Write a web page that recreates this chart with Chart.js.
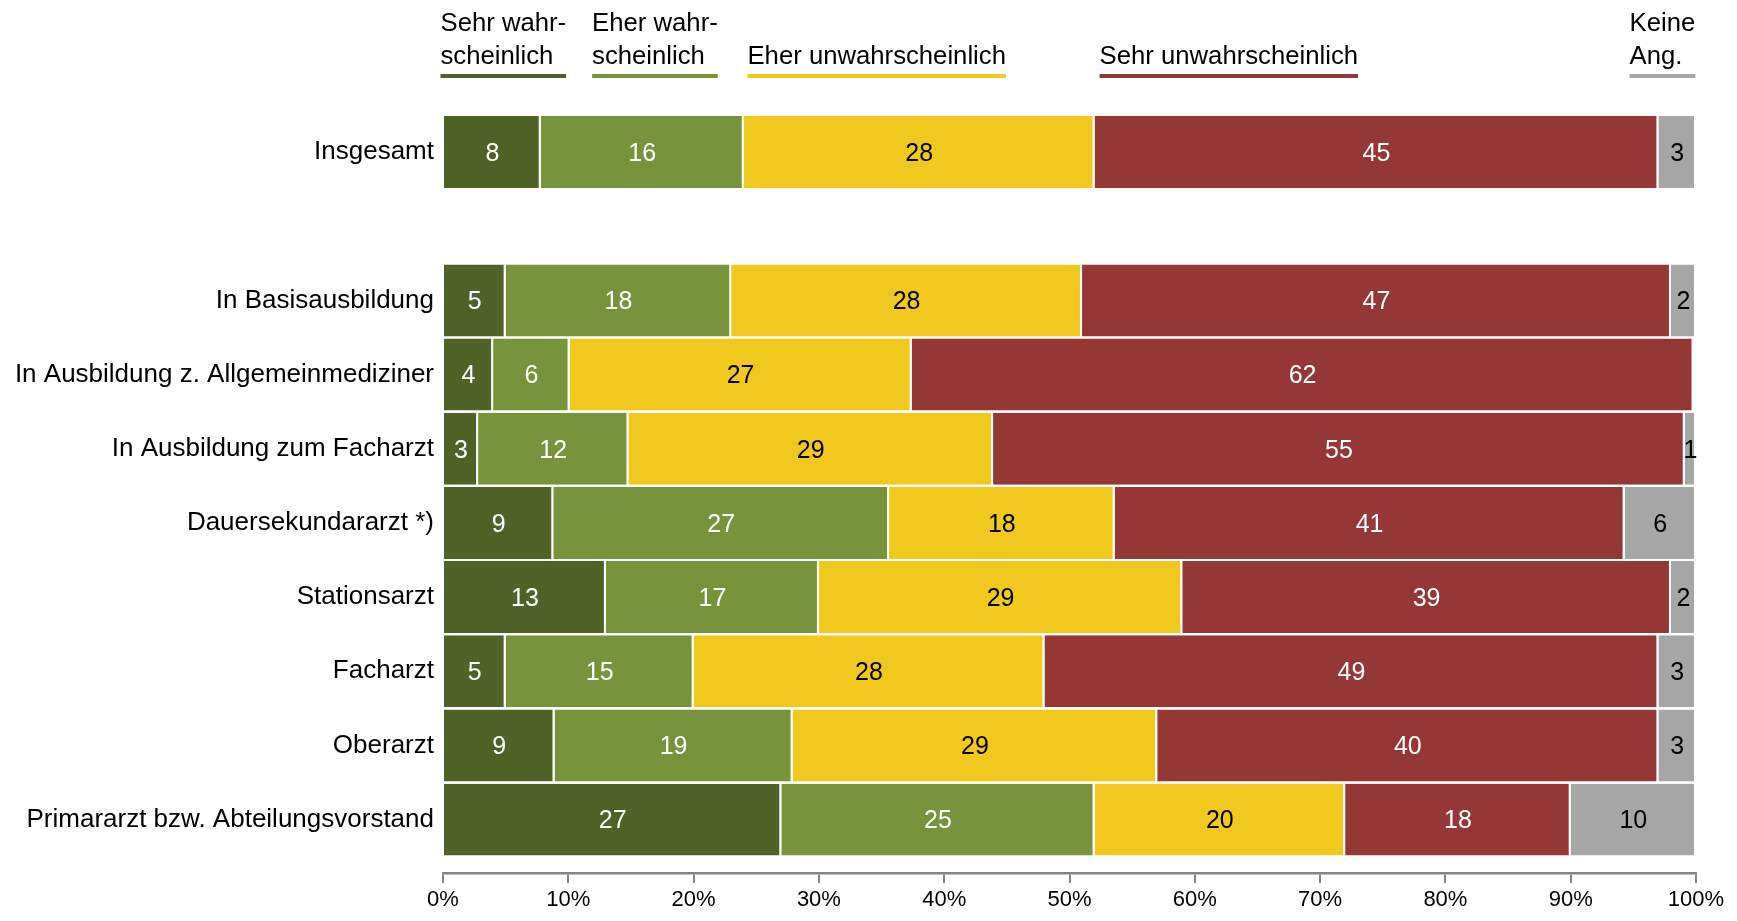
<!DOCTYPE html>
<html>
<head>
<meta charset="utf-8">
<script src="https://cdn.jsdelivr.net/npm/chart.js@4"></script>
<style>
  body { margin: 0; background: #fff; }
  #wrap { width: 1737px; height: 921px; }
</style>
</head>
<body>
<div id="wrap"><canvas id="chart" width="1737" height="921"></canvas></div>
<script>
// Kategorien (Zeile 1 ist leer = Abstand nach "Insgesamt")
const categories = [
  'Insgesamt',
  'In Basisausbildung',
  'In Ausbildung z. Allgemeinmediziner',
  'In Ausbildung zum Facharzt',
  'Dauersekundararzt *)',
  'Stationsarzt',
  'Facharzt',
  'Oberarzt',
  'Primararzt bzw. Abteilungsvorstand'
];
const rowIndex = [0, 2, 3, 4, 5, 6, 7, 8, 9];

const seriesNames = ['Sehr wahrscheinlich', 'Eher wahrscheinlich', 'Eher unwahrscheinlich', 'Sehr unwahrscheinlich', 'Keine Ang.'];
const sehrWahr   = [7.8, 5, 4,   2.8, 8.8, 13, 5, 8.9, 27];
const eherWahr   = [16.2, 18, 6.1, 12, 26.8, 17, 15, 19, 25];
const eherUnwahr = [28, 28, 27.3, 29.1, 18, 29, 28, 29.1, 20];
const sehrUnwahr = [45, 47, 62.4, 55.2, 40.7, 39, 49, 40, 18];
const keineAng   = [3, 2, 0, 0.9, 5.7, 2, 3, 3, 10];

const xTicks = [0, 10, 20, 30, 40, 50, 60, 70, 80, 90, 100];

const colors = ['#4F6228', '#77933C', '#F0C81E', '#953735', '#A6A6A6'];
const labelColors = ['#fff', '#fff', '#000', '#fff', '#000'];

// Legende oben: Textzeilen und linker Rand in % der x-Achse
const legendItems = [
  { lines: ['Sehr wahr-', 'scheinlich'], at: -0.2 },
  { lines: ['Eher wahr-', 'scheinlich'], at: 11.9 },
  { lines: ['', 'Eher unwahrscheinlich'], at: 24.3 },
  { lines: ['', 'Sehr unwahrscheinlich'], at: 52.4 },
  { lines: ['Keine', 'Ang.'], at: 94.7 }
];

const FONT = '"Liberation Sans", Arial, sans-serif';

const allSeries = [sehrWahr, eherWahr, eherUnwahr, sehrUnwahr, keineAng];
const datasets = allSeries.map((vals, i) => ({
  label: seriesNames[i],
  data: vals.map((v, j) => ({ x: v, y: rowIndex[j] })),
  backgroundColor: colors[i],
  borderColor: '#fff',
  borderWidth: { left: 0, right: 2, top: 0, bottom: 0 },
  borderSkipped: false,
  categoryPercentage: 1,
  barPercentage: 0.97
}));

// Werte in die Balken schreiben
const valueLabels = {
  id: 'valueLabels',
  afterDatasetsDraw(chart) {
    const ctx = chart.ctx;
    ctx.save();
    ctx.font = '25px ' + FONT;
    ctx.textAlign = 'center';
    ctx.textBaseline = 'middle';
    chart.data.datasets.forEach((ds, i) => {
      const meta = chart.getDatasetMeta(i);
      meta.data.forEach((el, j) => {
        const v = allSeries[i][j];
        if (!v) return;
        ctx.fillStyle = labelColors[i];
        ctx.fillText(String(Math.round(v)), (el.x + el.base) / 2, el.y + 2);
      });
    });
    ctx.restore();
  }
};

// Legende mit farbiger Unterstreichung
const topLegend = {
  id: 'topLegend',
  afterDraw(chart) {
    const ctx = chart.ctx;
    const xs = chart.scales.x;
    ctx.save();
    ctx.font = '25.7px ' + FONT;
    ctx.textAlign = 'left';
    ctx.textBaseline = 'alphabetic';
    ctx.fillStyle = '#000';
    legendItems.forEach((item, i) => {
      const left = xs.getPixelForValue(item.at);
      let w = 0;
      item.lines.forEach((t, k) => {
        if (!t) return;
        ctx.fillText(t, left, 31 + k * 33);
        w = Math.max(w, ctx.measureText(t).width);
      });
      ctx.fillStyle = colors[i];
      ctx.fillRect(left, 74, w, 4);
      ctx.fillStyle = '#000';
    });
    ctx.restore();
  }
};

new Chart(document.getElementById('chart'), {
  type: 'bar',
  data: { datasets },
  options: {
    indexAxis: 'y',
    responsive: false,
    animation: false,
    layout: { padding: { top: 115, right: 41, bottom: 0, left: 0 } },
    plugins: { legend: { display: false }, tooltip: { enabled: false } },
    scales: {
      x: {
        type: 'linear',
        stacked: true,
        min: 0,
        max: 100,
        afterBuildTicks: s => { s.ticks = xTicks.map(v => ({ value: v })); },
        afterFit: s => { s.height = 48; },
        border: { display: true, color: '#868686', width: 2.5 },
        grid: { drawOnChartArea: false, drawTicks: true, tickLength: 10, color: '#868686', lineWidth: 2 },
        ticks: {
          color: '#000',
          padding: 4,
          maxRotation: 0,
          font: { family: FONT, size: 22 },
          callback: v => v + '%'
        }
      },
      y: {
        type: 'linear',
        stacked: true,
        reverse: true,
        offset: false,
        min: -0.5,
        max: 9.72,
        afterBuildTicks: s => { s.ticks = rowIndex.map(v => ({ value: v })); },
        afterFit: s => { s.width = 443; },
        border: { display: false },
        grid: { display: false, drawTicks: false, offset: false },
        ticks: {
          color: '#000',
          padding: 9,
          autoSkip: false,
          font: { family: FONT, size: 26 },
          callback: v => categories[rowIndex.indexOf(v)]
        }
      }
    }
  },
  plugins: [valueLabels, topLegend]
});
</script>
</body>
</html>
